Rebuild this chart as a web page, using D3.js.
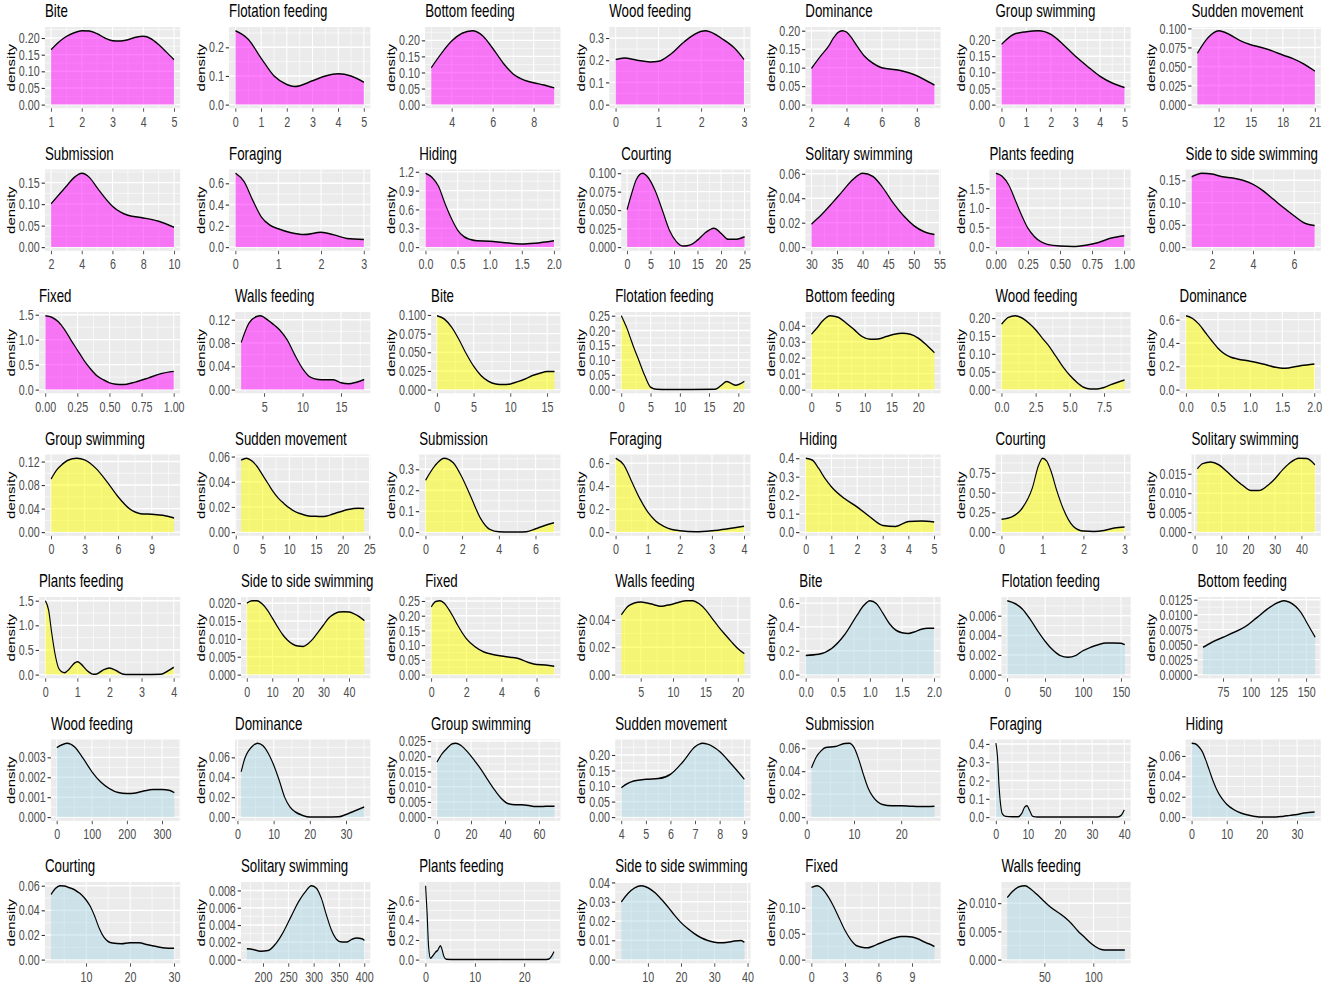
<!DOCTYPE html>
<html>
<head>
<meta charset="utf-8">
<script src="https://cdn.jsdelivr.net/npm/d3@7.9.0/dist/d3.min.js"></script>
<style>
  html, body { margin: 0; padding: 0; background: #fff; }
  svg { display: block; }
  text { font-family: "Liberation Sans", Arial, sans-serif; }
</style>
</head>
<body>
<svg id="chart"></svg>
<script>
const behaviours = ['Bite', 'Flotation feeding', 'Bottom feeding', 'Wood feeding', 'Dominance',
  'Group swimming', 'Sudden movement', 'Submission', 'Foraging', 'Hiding', 'Courting',
  'Solitary swimming', 'Plants feeding', 'Side to side swimming', 'Fixed', 'Walls feeding'];

// one fill per block of 16 panels
const groupFills = ['magenta', 'yellow', 'lightblue'];

const xValues = [
  // magenta
  [1,1.25,1.5,1.75,2,2.25,2.5,2.75,3,3.25,3.5,3.75,4,4.25,4.5,4.75,5],
  [0,0.5,1,1.5,2,2.3,3,3.5,4,4.5,5],
  [3,3.5,4,4.5,5,5.5,6,6.5,7,7.5,8,8.5,9],
  [0,0.2,0.5,0.8,1,1.3,1.6,2,2.1,2.5,2.8,3],
  [2,2.5,3,3.25,3.5,3.75,4,4.25,4.5,5,5.5,6,7,8,8.5,9],
  [0,0.5,1,1.5,2,2.5,3,3.5,4,4.5,5],
  [10,11,12,13,14,15,16,17,18,19,20,21],
  [2,3,3.5,4,4.5,5,6,6.5,7,8,9,10],
  [0,0.2,0.4,0.6,0.8,1,1.3,1.6,2,2.3,2.6,3],
  [0,0.1,0.2,0.3,0.4,0.5,0.6,0.7,0.8,1,1.2,1.5,1.7,2],
  [0,1,2,3.3,4.5,6,7.5,9,10.5,12,13.5,15,16.5,18.5,20,21.5,23,25],
  [30,32,34,36,38,40,42,44,46,48,50,52,54],
  [0,0.05,0.1,0.15,0.2,0.25,0.3,0.35,0.4,0.5,0.6,0.7,0.8,0.9,1],
  [1,1.5,2,2.5,3,3.5,4,4.5,5,5.5,6,6.5,7],
  [0,0.05,0.1,0.15,0.2,0.25,0.3,0.35,0.4,0.45,0.5,0.55,0.6,0.7,0.8,0.9,1],
  [2,3,4,4.5,5,6,7,8,9,10,11,12,13,14,15,16,17,18],
  // yellow
  [0,1,2,3,4,5,6,7,8,9,10,11,12,13,14,15,16],
  [0,0.5,1,1.5,2,3,4,5,6,8,12,16,17,18,19.5,21],
  [0,1,2,3.5,5,6.5,8,9.5,11,12.5,14,15.5,17,18.5,20,21.5,23],
  [0,0.5,1,1.5,2,2.5,3,3.5,4,4.5,5,5.5,6,6.5,7,7.5,8,8.5,9],
  [0,0.1,0.2,0.3,0.4,0.5,0.6,0.7,0.8,1,1.2,1.4,1.5,1.6,1.8,2],
  [0,0.5,1,1.5,2.3,3,4,5,6,7,8,9,10,11],
  [1,2,3,4,5,6,7,8,9,10,11,12,13,14,15,16,17,18,19,20,21,22,23,24],
  [0,0.5,1,1.5,2,2.5,3,3.5,4,5,5.5,6,6.5,7],
  [0,0.25,0.5,0.75,1,1.25,1.5,1.75,2,2.5,3,3.5,4],
  [0,0.25,0.5,0.75,1,1.5,2,2.5,3,3.5,4,4.5,5],
  [0,0.25,0.5,0.75,0.9,1,1.1,1.2,1.35,1.5,1.75,2,2.25,2.5,2.75,3],
  [1,3,6,9,12,15,18,21,24,27,30,33,36,39,42,45],
  [0,0.1,0.2,0.3,0.4,0.5,0.6,0.75,0.9,1,1.1,1.3,1.5,1.6,1.8,2,2.2,2.4,2.6,3,3.6,3.8,4],
  [0,2,4,6,8,10,12,14,16,18,20,22,24,26,28,30,32,34,36,38,40,42,44,46],
  [0,0.25,0.5,0.75,1,1.25,1.5,2,2.5,3,3.5,4,4.5,5,5.5,6,6.5,7],
  [2,3,4,5,6,7,8,9,10,11,12,13,14,15,16,17,18,19,20,21],
  // light blue
  [0,0.2,0.4,0.6,0.8,0.9,1,1.1,1.2,1.3,1.4,1.5,1.6,1.7,1.8,1.9,2],
  [0,10,20,30,40,50,60,70,80,90,100,110,120,130,140,150,155],
  [57,65,75,85,95,105,115,125,130,135,145,152,158],
  [0,15,30,50,75,100,125,150,175,200,225,250,275,300,320,335],
  [1,2,3,4,5.5,7,8.5,10,11.5,13,14.5,16,18,20,24,28,30,32,35],
  [0,3,6,9,11,14,18,22,26,30,34,38,42,46,50,54,58,62,66,69],
  [4,4.25,4.5,5,5.5,6,6.5,7,7.3,7.5,8,8.5,9],
  [1,2,3,4,6,8,9,10,11,12,13,14,15,16,18,20,22,24,27],
  [0,0.5,1,1.5,2,3,5,7,8,9,9.7,10.5,11.5,13,20,38,39,40],
  [0,1,2,3,4,5,6,7,8,9,10,12,14,16,18,20,24,26,28,30,32,35],
  [2,3,4,5,6,7,8,9,10,11,12,13,14,15,16,18,20,22,24,26,28,30],
  [168,180,195,210,225,240,255,270,285,295,305,315,325,335,345,355,365,375,385,395,400],
  [0,0.3,0.6,1,1.5,2,2.5,3,3.3,3.7,4.2,6,24,25,25.5,26],
  [2,4,6,8,10,12,14,16,18,20,22,24,26,28,30,32,34,36,38,39],
  [0,0.5,1,1.5,2,2.5,3,3.5,4,4.5,5,5.5,6,6.5,7,7.5,8,8.5,9,9.5,10,10.5,11],
  [12,18,24,30,36,42,48,54,60,66,72,78,84,90,96,102,108,114,120,126,132]
];

const densities = [
  // magenta
  [0.165,0.188,0.205,0.216,0.222,0.221,0.213,0.2,0.192,0.191,0.195,0.202,0.205,0.198,0.18,0.158,0.135],
  [0.258,0.228,0.162,0.1,0.07,0.063,0.083,0.1,0.108,0.1,0.078],
  [0.115,0.16,0.198,0.222,0.23,0.215,0.175,0.13,0.095,0.077,0.068,0.061,0.052],
  [0.203,0.21,0.2,0.192,0.195,0.23,0.283,0.33,0.333,0.295,0.25,0.203],
  [0.098,0.13,0.16,0.18,0.195,0.2,0.196,0.183,0.165,0.132,0.112,0.1,0.093,0.078,0.066,0.053],
  [0.187,0.218,0.226,0.229,0.218,0.187,0.15,0.118,0.088,0.067,0.053],
  [0.0675,0.088,0.097,0.092,0.084,0.0785,0.075,0.0705,0.065,0.06,0.053,0.044],
  [0.101,0.142,0.162,0.172,0.162,0.138,0.095,0.082,0.074,0.068,0.06,0.046],
  [0.695,0.616,0.443,0.286,0.208,0.173,0.135,0.118,0.14,0.115,0.082,0.072],
  [1.177,1.11,0.97,0.7,0.46,0.27,0.165,0.12,0.1,0.095,0.075,0.048,0.06,0.1],
  [0.0507,0.073,0.092,0.1,0.094,0.076,0.05,0.023,0.0073,0.0014,0.003,0.0096,0.0187,0.0256,0.0187,0.0105,0.0105,0.014],
  [0.0189,0.0268,0.0359,0.0455,0.055,0.0605,0.0578,0.0482,0.0359,0.0255,0.0175,0.0126,0.0104],
  [1.89,1.81,1.59,1.21,0.82,0.48,0.27,0.14,0.07,0.026,0.017,0.05,0.12,0.23,0.29],
  [0.158,0.166,0.164,0.158,0.155,0.15,0.141,0.126,0.107,0.088,0.07,0.054,0.0485],
  [1.48,1.45,1.36,1.2,0.99,0.79,0.59,0.42,0.28,0.2,0.135,0.108,0.1,0.15,0.23,0.32,0.365],
  [0.081,0.114,0.1256,0.127,0.124,0.114,0.1026,0.0852,0.059,0.036,0.0214,0.0174,0.0168,0.0168,0.0116,0.0099,0.0128,0.0174],
  // yellow
  [0.099,0.0946,0.0835,0.067,0.0478,0.0312,0.0188,0.0112,0.0076,0.0067,0.0076,0.0107,0.0143,0.0188,0.0219,0.0241,0.0241],
  [0.25,0.228,0.205,0.177,0.149,0.098,0.047,0.008,0.001,0,0,0.001,0.0135,0.027,0.015,0.028],
  [0.0347,0.0385,0.0427,0.0463,0.0453,0.0417,0.0375,0.0332,0.0315,0.0317,0.0332,0.0347,0.0353,0.0347,0.0322,0.028,0.0231],
  [0.183,0.202,0.2066,0.2,0.186,0.167,0.143,0.12,0.0915,0.063,0.0396,0.0208,0.0066,0.0019,0.0019,0.0057,0.014,0.0208,0.027],
  [0.634,0.611,0.563,0.491,0.42,0.354,0.306,0.277,0.263,0.243,0.22,0.191,0.183,0.186,0.206,0.22],
  [0.0903,0.1057,0.1154,0.1223,0.1257,0.1229,0.1086,0.0857,0.06,0.04,0.0314,0.0303,0.0286,0.024],
  [0.0573,0.0587,0.0565,0.052,0.0453,0.0387,0.032,0.0267,0.0227,0.0192,0.0165,0.0147,0.0133,0.0125,0.0125,0.0123,0.0128,0.0141,0.0155,0.0168,0.0179,0.0187,0.019,0.0187],
  [0.248,0.316,0.353,0.332,0.259,0.162,0.065,0.013,0.0016,0,0.0016,0.016,0.032,0.045],
  [0.643,0.585,0.439,0.292,0.175,0.0965,0.05,0.023,0.0117,0.003,0.0117,0.029,0.05],
  [0.4,0.39,0.345,0.29,0.245,0.182,0.136,0.082,0.036,0.031,0.058,0.06,0.0545],
  [0.163,0.193,0.3,0.558,0.84,0.935,0.9,0.78,0.52,0.3,0.073,0.013,0.0086,0.0215,0.0515,0.064],
  [0.0163,0.0176,0.018,0.0173,0.0156,0.0137,0.012,0.0107,0.0107,0.0118,0.0137,0.0161,0.018,0.019,0.0189,0.0173],
  [1.5,1.31,0.83,0.42,0.15,0.06,0.04,0.116,0.23,0.26,0.22,0.082,0.007,0.014,0.095,0.136,0.082,0.014,0,0,0.007,0.068,0.15],
  [0.02,0.0207,0.0207,0.0198,0.0181,0.0158,0.0134,0.0112,0.0096,0.0085,0.008,0.0079,0.0087,0.0101,0.012,0.0139,0.0158,0.0169,0.0175,0.0176,0.0175,0.017,0.0162,0.0151],
  [0.23,0.248,0.251,0.242,0.221,0.196,0.168,0.122,0.094,0.0765,0.0685,0.063,0.059,0.054,0.042,0.034,0.033,0.0285],
  [0.0437,0.0499,0.0523,0.0531,0.0523,0.0511,0.0499,0.0506,0.0516,0.0531,0.054,0.054,0.0518,0.0474,0.0412,0.035,0.0294,0.024,0.019,0.0153],
  // light blue
  [0.161,0.17,0.218,0.331,0.5,0.578,0.62,0.595,0.516,0.43,0.374,0.351,0.345,0.36,0.38,0.388,0.388],
  [0.00753,0.00725,0.00668,0.00566,0.00447,0.00339,0.00251,0.00193,0.00176,0.00193,0.00244,0.00278,0.00305,0.00322,0.00322,0.00319,0.00305],
  [0.00456,0.0054,0.00622,0.00706,0.008,0.00944,0.01094,0.01206,0.01233,0.01206,0.01039,0.00817,0.00622],
  [0.00349,0.00363,0.00371,0.00354,0.00295,0.00228,0.00177,0.00143,0.00123,0.00118,0.00121,0.00132,0.00138,0.00138,0.00135,0.00123],
  [0.0455,0.059,0.0664,0.0708,0.0742,0.0718,0.064,0.0522,0.0371,0.0202,0.0101,0.0051,0.0017,0,0,0.0003,0.0027,0.0057,0.0101],
  [0.0181,0.0208,0.0227,0.0241,0.0243,0.0236,0.0214,0.0186,0.0156,0.0121,0.0088,0.006,0.0044,0.0041,0.0041,0.0038,0.0035,0.0035,0.0036,0.0036],
  [0.095,0.108,0.116,0.122,0.124,0.138,0.178,0.227,0.238,0.235,0.211,0.168,0.122],
  [0.0429,0.0523,0.0576,0.0606,0.0615,0.0641,0.0644,0.0606,0.0502,0.0369,0.0251,0.0177,0.0133,0.0109,0.0098,0.01,0.0095,0.0092,0.0095],
  [0.404,0.33,0.165,0.064,0.018,0.004,0.002,0.002,0.018,0.055,0.062,0.037,0.004,0,0,0,0.009,0.04],
  [0.0725,0.0719,0.0692,0.0643,0.056,0.0462,0.0363,0.028,0.0214,0.0165,0.0125,0.0073,0.004,0.002,0.0007,0,0,0.0007,0.0017,0.0026,0.004,0.0049],
  [0.0529,0.0578,0.06,0.0597,0.0586,0.0573,0.0551,0.0524,0.0483,0.0428,0.0346,0.0251,0.0183,0.0147,0.0134,0.0128,0.0136,0.0136,0.012,0.0106,0.0095,0.0093],
  [0.00125,0.00117,0.00098,0.00105,0.00184,0.0032,0.00496,0.0067,0.00797,0.00855,0.00828,0.0071,0.00516,0.0034,0.00234,0.00203,0.00203,0.00234,0.0025,0.00242,0.00223],
  [0.752,0.48,0.14,0.0135,0.04,0.075,0.098,0.142,0.108,0.034,0.003,0,0,0.007,0.034,0.081],
  [0.0299,0.0343,0.0372,0.0383,0.0372,0.0348,0.0313,0.0273,0.023,0.0191,0.016,0.0134,0.0113,0.0099,0.009,0.0087,0.009,0.0096,0.0099,0.009],
  [0.1396,0.1429,0.1364,0.1214,0.102,0.0792,0.0565,0.039,0.0273,0.024,0.0227,0.026,0.0305,0.035,0.039,0.0422,0.0448,0.0448,0.0435,0.0403,0.035,0.0305,0.0253],
  [0.011,0.0122,0.0129,0.0131,0.0125,0.0116,0.0106,0.0096,0.0088,0.0081,0.0073,0.0063,0.0051,0.0041,0.0031,0.0023,0.0018,0.0017,0.0017,0.0017,0.0017]
];

const xTickLabels = [
  ['1','2','3','4','5'], ['0','1','2','3','4','5'], ['4','6','8'], ['0','1','2','3'],
  ['2','4','6','8'], ['0','1','2','3','4','5'], ['12','15','18','21'], ['2','4','6','8','10'],
  ['0','1','2','3'], ['0.0','0.5','1.0','1.5','2.0'], ['0','5','10','15','20','25'], ['30','35','40','45','50','55'],
  ['0.00','0.25','0.50','0.75','1.00'], ['2','4','6'], ['0.00','0.25','0.50','0.75','1.00'], ['5','10','15'],
  ['0','5','10','15'], ['0','5','10','15','20'], ['0','5','10','15','20'], ['0.0','2.5','5.0','7.5'],
  ['0.0','0.5','1.0','1.5','2.0'], ['0','3','6','9'], ['0','5','10','15','20','25'], ['0','2','4','6'],
  ['0','1','2','3','4'], ['0','1','2','3','4','5'], ['0','1','2','3'], ['0','10','20','30','40'],
  ['0','1','2','3','4'], ['0','10','20','30','40'], ['0','2','4','6'], ['5','10','15','20'],
  ['0.0','0.5','1.0','1.5','2.0'], ['0','50','100','150'], ['75','100','125','150'], ['0','100','200','300'],
  ['0','10','20','30'], ['0','20','40','60'], ['4','5','6','7','8','9'], ['0','10','20'],
  ['0','10','20','30','40'], ['0','10','20','30'], ['10','20','30'], ['200','250','300','350','400'],
  ['0','10','20'], ['10','20','30','40'], ['0','3','6','9'], ['50','100']
];

const yTickLabels = [
  ['0.00','0.05','0.10','0.15','0.20'], ['0.0','0.1','0.2'], ['0.00','0.05','0.10','0.15','0.20'], ['0.0','0.1','0.2','0.3'],
  ['0.00','0.05','0.10','0.15','0.20'], ['0.00','0.05','0.10','0.15','0.20'], ['0.000','0.025','0.050','0.075','0.100'], ['0.00','0.05','0.10','0.15'],
  ['0.0','0.2','0.4','0.6'], ['0.0','0.3','0.6','0.9','1.2'], ['0.000','0.025','0.050','0.075','0.100'], ['0.00','0.02','0.04','0.06'],
  ['0.0','0.5','1.0','1.5'], ['0.00','0.05','0.10','0.15'], ['0.0','0.5','1.0','1.5'], ['0.00','0.04','0.08','0.12'],
  ['0.000','0.025','0.050','0.075','0.100'], ['0.00','0.05','0.10','0.15','0.20','0.25'], ['0.00','0.01','0.02','0.03','0.04'], ['0.00','0.05','0.10','0.15','0.20'],
  ['0.0','0.2','0.4','0.6'], ['0.00','0.04','0.08','0.12'], ['0.00','0.02','0.04','0.06'], ['0.0','0.1','0.2','0.3'],
  ['0.0','0.2','0.4','0.6'], ['0.0','0.1','0.2','0.3','0.4'], ['0.00','0.25','0.50','0.75'], ['0.000','0.005','0.010','0.015'],
  ['0.0','0.5','1.0','1.5'], ['0.000','0.005','0.010','0.015','0.020'], ['0.00','0.05','0.10','0.15','0.20','0.25'], ['0.00','0.02','0.04'],
  ['0.0','0.2','0.4','0.6'], ['0.000','0.002','0.004','0.006'], ['0.0000','0.0025','0.0050','0.0075','0.0100','0.0125'], ['0.000','0.001','0.002','0.003'],
  ['0.00','0.02','0.04','0.06'], ['0.000','0.005','0.010','0.015','0.020','0.025'], ['0.00','0.05','0.10','0.15','0.20'], ['0.00','0.02','0.04','0.06'],
  ['0.0','0.1','0.2','0.3','0.4'], ['0.00','0.02','0.04','0.06'], ['0.00','0.02','0.04','0.06'], ['0.000','0.002','0.004','0.006','0.008'],
  ['0.0','0.2','0.4','0.6'], ['0.00','0.01','0.02','0.03','0.04'], ['0.00','0.05','0.10'], ['0.000','0.005','0.010']
];

// the reference is a wide ggplot squeezed horizontally, so draw wide and squeeze
const width = 1325, height = 986;
const squeeze = 0.74;
const vw = width / squeeze;
const colPitch = 190.1 / squeeze;
const rowPitch = 142.5;
const tickFont = 14.5;

const svg = d3.select('#chart')
  .attr('width', width)
  .attr('height', height)
  .attr('viewBox', `0 0 ${vw} ${height}`)
  .attr('preserveAspectRatio', 'none');

const probe = svg.append('text').attr('font-size', tickFont).attr('visibility', 'hidden');
const textWidth = s => { probe.text(s); return probe.node().getComputedTextLength(); };

const minorBreaks = (ticks, [lo, hi]) => {
  const step = ticks[1] - ticks[0];
  const out = [];
  for (let k = -1; k < ticks.length; k++) {
    const v = ticks[0] + (k + 0.5) * step;
    if (v >= lo && v <= hi) out.push(v);
  }
  return out;
};

densities.forEach((dens, i) => {
  const col = i % 7, row = Math.floor(i / 7);
  const cx = col * colPitch, cy = row * rowPitch;
  const xs = xValues[i];
  const xLabels = xTickLabels[i], yLabels = yTickLabels[i];
  const pts = xs.map((v, k) => [v, dens[k]]);

  const left = cx + 25.5 + d3.max(yLabels, textWidth) + 7;
  const right = cx + 243.5;
  const top = cy + 27, bottom = cy + 108.3;

  const [x0, x1] = d3.extent(xs);
  const pad = (x1 - x0) * 0.05;
  const yMax = d3.max(dens);
  const x = d3.scaleLinear().domain([x0 - pad, x1 + pad]).range([left, right]);
  const y = d3.scaleLinear().domain([-yMax * 0.05, yMax * 1.05]).range([bottom, top]);

  const xt = xLabels.map(Number).filter(v => v >= x.domain()[0] && v <= x.domain()[1]);
  const yt = yLabels.map(Number).filter(v => v >= y.domain()[0] && v <= y.domain()[1]);

  const g = svg.append('g');

  g.append('rect')
    .attr('x', left).attr('y', top)
    .attr('width', right - left).attr('height', bottom - top)
    .attr('fill', '#EBEBEB');

  minorBreaks(xt, x.domain()).forEach(v => {
    g.append('line').attr('x1', x(v)).attr('x2', x(v)).attr('y1', top).attr('y2', bottom)
      .attr('stroke', '#fff').attr('stroke-width', 0.7);
  });
  minorBreaks(yt, y.domain()).forEach(v => {
    g.append('line').attr('x1', left).attr('x2', right).attr('y1', y(v)).attr('y2', y(v))
      .attr('stroke', '#fff').attr('stroke-width', 0.7);
  });
  xt.forEach(v => {
    g.append('line').attr('x1', x(v)).attr('x2', x(v)).attr('y1', top).attr('y2', bottom)
      .attr('stroke', '#fff').attr('stroke-width', 1.4);
  });
  yt.forEach(v => {
    g.append('line').attr('x1', left).attr('x2', right).attr('y1', y(v)).attr('y2', y(v))
      .attr('stroke', '#fff').attr('stroke-width', 1.4);
  });

  const area = d3.area()
    .x(d => x(d[0])).y0(y(0)).y1(d => y(d[1]))
    .curve(d3.curveMonotoneX);
  const line = d3.line()
    .x(d => x(d[0])).y(d => y(d[1]))
    .curve(d3.curveMonotoneX);

  g.append('path')
    .attr('d', area(pts))
    .attr('fill', groupFills[Math.floor(i / 16)])
    .attr('fill-opacity', 0.5);
  g.append('path')
    .attr('d', line(pts))
    .attr('fill', 'none')
    .attr('stroke', '#000')
    .attr('stroke-width', 1.5);

  const xAxis = g.append('g')
    .attr('transform', `translate(0,${bottom})`)
    .call(d3.axisBottom(x).tickValues(xt)
      .tickFormat(d => xLabels[xLabels.map(Number).indexOf(d)])
      .tickSize(3.5).tickPadding(4.5));
  const yAxis = g.append('g')
    .attr('transform', `translate(${left},0)`)
    .call(d3.axisLeft(y).tickValues(yt)
      .tickFormat(d => yLabels[yLabels.map(Number).indexOf(d)])
      .tickSize(4.5).tickPadding(2.5));

  [xAxis, yAxis].forEach(a => {
    a.select('.domain').remove();
    a.attr('font-family', null).attr('font-size', tickFont);
    a.selectAll('line').attr('stroke', '#333333').attr('stroke-width', 1.1);
    a.selectAll('text').attr('fill', '#4D4D4D');
  });

  g.append('text')
    .attr('x', left).attr('y', cy + 17.3)
    .attr('font-size', 18)
    .attr('fill', '#000')
    .text(behaviours[i % 16]);

  g.append('text')
    .attr('transform', `translate(${cx + 14.6},${(top + bottom) / 2}) rotate(-90)`)
    .attr('dy', '0.35em')
    .attr('text-anchor', 'middle')
    .attr('font-size', 15)
    .attr('fill', '#000')
    .text('density');
});
</script>
</body>
</html>
